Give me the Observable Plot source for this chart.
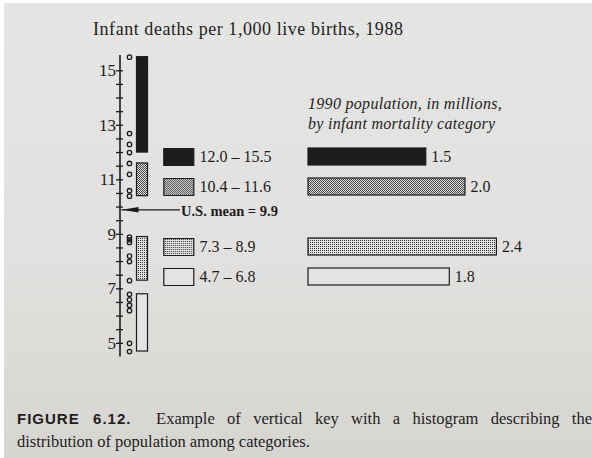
<!DOCTYPE html>
<html><head><meta charset="utf-8">
<script src="https://cdn.jsdelivr.net/npm/d3@7"></script>
<script src="https://cdn.jsdelivr.net/npm/@observablehq/plot@0.6"></script>
<style>
html,body{margin:0;padding:0;background:#fff;}
#page{position:relative;width:592px;height:458px;overflow:hidden;
  background:
    linear-gradient(to right,#fff 0,#fff 4px,transparent 4px),
    linear-gradient(#fff 0,#fff 3px,transparent 3px),
    linear-gradient(#e5e5e4,#e2e1df 55%,#d7d5d1);
  color:#1e1e1e;font-family:"Liberation Serif",serif;}
.abs{position:absolute;}
#title{left:93px;top:19px;font-size:18px;line-height:20px;letter-spacing:0.55px;white-space:nowrap;}
#popTitle{left:308px;top:94px;font-size:16px;line-height:20px;letter-spacing:0.3px;font-style:italic;white-space:nowrap;}
#caption{left:17px;top:407px;width:575px;font-size:16.5px;line-height:23px;}
#caption .l1{text-align:justify;text-align-last:justify;white-space:nowrap;}
#caption b{font-family:"Liberation Sans",sans-serif;font-size:15px;letter-spacing:1px;}
#page > svg{position:absolute;left:0;top:0;}
</style>
</head><body>
<div id="page">
  <div id="title" class="abs">Infant deaths per 1,000 live births, 1988</div>
  <div id="popTitle" class="abs">1990 population, in millions,<br>by infant mortality category</div>
  <div id="caption" class="abs"><div class="l1"><b>FIGURE 6.12.</b>&nbsp; Example of vertical key with a histogram describing the</div><div>distribution of population among categories.</div></div>
</div>
<script>
// ---- data ----
const categories = ["12.0 – 15.5", "10.4 – 11.6", "7.3 – 8.9", "4.7 – 6.8"];
const rangeLow = [12.0, 10.4, 7.3, 4.7];
const rangeHigh = [15.5, 11.6, 8.9, 6.8];
const population = [1.5, 2.0, 2.4, 1.8];
const stateRates = [15.5, 12.7, 12.3, 12.0, 11.6, 11.2, 10.6, 10.4,
  8.9, 8.8, 8.7, 8.2, 8.0, 7.3, 6.8, 6.6, 6.4, 6.2, 5.0, 4.7];
const usMean = 9.9;
const tickValues = [5, 5.5, 6, 6.5, 7, 7.5, 8, 8.5, 9, 9.5, 10, 10.5, 11, 11.5, 12, 12.5, 13, 13.5, 14, 14.5, 15];
const tickLabels = [5, 7, 9, 11, 13, 15];

const rows = categories.map((c, i) => ({category: c, low: rangeLow[i], high: rangeHigh[i], pop: population[i]}));
const rowDomain = [categories[0], categories[1], "U.S. mean", categories[2], categories[3]];
const ink = "#1c1c1c";
const paper = "#e4e3e1";
const fills = [ink, "url(#densePat)", "url(#lightPat)", paper];
const color = {domain: categories, range: fills};
const style = {background: "transparent", color: ink, fontFamily: "'Liberation Serif', serif", fontSize: "16px"};

const arrowHead = {draw(ctx, l) { ctx.moveTo(0, -l); ctx.lineTo(-2.8, 0); ctx.lineTo(2.8, 0); ctx.closePath(); }};
const legendBox = {draw(ctx) { ctx.rect(-15, -8.5, 30, 17); }};

const plotA = Plot.plot({
  width: 300, height: 390,
  marginLeft: 119.5, marginRight: 0, marginTop: 55.3, marginBottom: 34.9,
  y: {domain: [4.55, 15.55], axis: null},
  color, style,
  marks: [
    Plot.frame({anchor: "left", strokeWidth: 1.6, stroke: ink}),
    Plot.axisY(tickValues, {anchor: "left", tickSize: 7, dx: 3.5, strokeWidth: 1.3, stroke: ink, fill: "none", label: null}),
    Plot.axisY(tickLabels, {anchor: "left", tickSize: 0, tickPadding: 4, fontSize: 17, fill: ink, label: null}),
    Plot.dot(stateRates, {y: d => d, frameAnchor: "left", dx: 9.5, r: 2.2, stroke: ink, strokeWidth: 1.3}),
    Plot.rect(rows, {y1: "low", y2: "high", fill: "category", stroke: ink, strokeWidth: 1.2, insetLeft: 17, insetRight: 152.5}),
    Plot.ruleY([usMean], {insetLeft: 2, insetRight: 120, strokeWidth: 1.3, stroke: ink}),
    Plot.vector([usMean], {y: d => d, frameAnchor: "left", dx: 2, length: 16.5, rotate: -90, anchor: "end", shape: arrowHead, fill: ink, stroke: "none"}),
    Plot.text([usMean], {y: d => d, frameAnchor: "left", dx: 61, dy: 1.5, text: d => `U.S. mean = ${d}`, textAnchor: "start", fontWeight: "bold", fontSize: 14.5, fill: ink})
  ]
});

const plotB = Plot.plot({
  width: 592, height: 390,
  marginLeft: 308, marginRight: 48.5, marginTop: 0, marginBottom: 0,
  x: {domain: [0, 3], axis: null},
  y: {domain: rowDomain, range: [132, 300.1], padding: 0.45, axis: null},
  color, style,
  marks: [
    Plot.barX(rows, {x: "pop", y: "category", fill: "category", stroke: ink, strokeWidth: 1.2}),
    Plot.text(rows, {x: "pop", y: "category", text: d => d.pop.toFixed(1), dx: 5, textAnchor: "start", fill: ink}),
    Plot.dot(rows, {y: "category", frameAnchor: "left", dx: -129.7, symbol: legendBox, fill: "category", stroke: ink, strokeWidth: 1.2}),
    Plot.text(rows, {y: "category", frameAnchor: "left", dx: -109, text: "category", textAnchor: "start", fill: ink})
  ]
});

const defs = `<defs>
<pattern id="densePat" patternUnits="userSpaceOnUse" width="2" height="2">
  <rect width="2" height="2" fill="${paper}"/><rect x="0" y="0" width="1" height="1" fill="#444"/><rect x="1" y="1" width="1" height="1" fill="#444"/>
</pattern>
<pattern id="lightPat" patternUnits="userSpaceOnUse" width="2" height="2">
  <rect width="2" height="2" fill="${paper}"/><rect x="0" y="0" width="1" height="1" fill="#333"/>
</pattern></defs>`;
plotA.insertAdjacentHTML("afterbegin", defs);
const page = document.getElementById("page");
page.appendChild(plotA);
page.appendChild(plotB);
</script>
</body></html>
